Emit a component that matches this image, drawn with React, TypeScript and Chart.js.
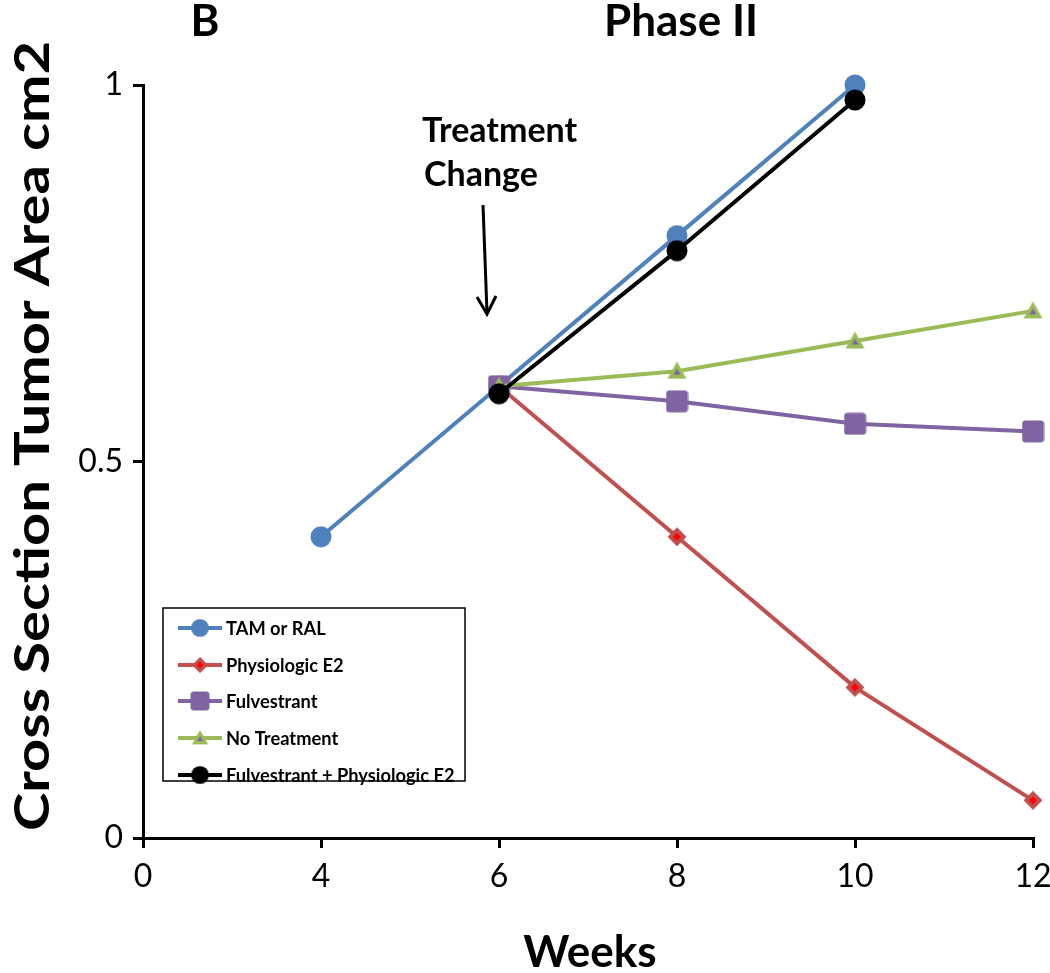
import React, { useEffect, useRef } from "react";
import { Chart, registerables } from "chart.js";

Chart.register(...registerables);

const categories = ["0", "4", "6", "8", "10", "12"];
const tamRal = [null, 0.4, 0.6, 0.8, 1.0, null];
const physE2 = [null, null, 0.6, 0.4, 0.2, 0.05];
const fulvestrant = [null, null, 0.6, 0.58, 0.55, 0.54];
const noTreatment = [null, null, 0.6, 0.62, 0.66, 0.7];
const fulvPlusE2 = [null, null, 0.59, 0.78, 0.98, null];
const seriesNames = ["TAM or RAL", "Physiologic E2", "Fulvestrant", "No Treatment", "Fulvestrant + Physiologic E2"];
const yTickLabels: Record<string, string> = { "0": "0", "0.5": "0.5", "1": "1" };

const BLUE = "#4F81BD";
const RED = "#C0504D";
const PURPLE = "#8064A2";
const GREEN = "#9BBB59";
const BLACK = "#000000";
const FONT = "Lato, 'Open Sans', sans-serif";

function mk(size: number, draw: (c: CanvasRenderingContext2D, s: number) => void) {
  const cv = document.createElement("canvas");
  cv.width = size;
  cv.height = size;
  const c = cv.getContext("2d")!;
  draw(c, size);
  return cv;
}

function circle(color: string) {
  return mk(22, (c, s) => {
    c.fillStyle = color;
    c.beginPath();
    c.arc(s / 2, s / 2, 10.5, 0, Math.PI * 2);
    c.fill();
  });
}

const diamond = mk(22, (c, s) => {
  const h = s / 2;
  c.fillStyle = RED;
  c.beginPath();
  c.moveTo(h, h - 9.5);
  c.lineTo(h + 9.5, h);
  c.lineTo(h, h + 9.5);
  c.lineTo(h - 9.5, h);
  c.closePath();
  c.fill();
  c.fillStyle = "#FF0000";
  c.beginPath();
  c.moveTo(h, h - 4);
  c.lineTo(h + 4, h);
  c.lineTo(h, h + 4);
  c.lineTo(h - 4, h);
  c.closePath();
  c.fill();
});

const square = mk(23, (c, s) => {
  c.fillStyle = PURPLE;
  const r = 3.5;
  const x0 = 0.5, y0 = 0.5, w = s - 1;
  c.beginPath();
  c.moveTo(x0 + r, y0);
  c.lineTo(x0 + w - r, y0);
  c.quadraticCurveTo(x0 + w, y0, x0 + w, y0 + r);
  c.lineTo(x0 + w, y0 + w - r);
  c.quadraticCurveTo(x0 + w, y0 + w, x0 + w - r, y0 + w);
  c.lineTo(x0 + r, y0 + w);
  c.quadraticCurveTo(x0, y0 + w, x0, y0 + w - r);
  c.lineTo(x0, y0 + r);
  c.quadraticCurveTo(x0, y0, x0 + r, y0);
  c.closePath();
  c.fill();
});

const triangle = mk(21, (c, s) => {
  const h = s / 2;
  c.fillStyle = GREEN;
  c.beginPath();
  c.moveTo(h, 1);
  c.lineTo(s - 1, s - 3);
  c.lineTo(1, s - 3);
  c.closePath();
  c.fill();
  c.fillStyle = PURPLE;
  c.beginPath();
  c.moveTo(h, h - 2.5);
  c.lineTo(h + 3.5, h + 3.5);
  c.lineTo(h - 3.5, h + 3.5);
  c.closePath();
  c.fill();
});

const blueCircle = circle(BLUE);
const blackCircle = circle(BLACK);

const markers = [blueCircle, diamond, square, triangle, blackCircle];
const colors = [BLUE, RED, PURPLE, GREEN, BLACK];

const textPlugin = {
  id: "textPlugin",
  afterDraw(chart: any) {
    const c: CanvasRenderingContext2D = chart.ctx;
    c.save();
    c.fillStyle = "#000";
    c.textAlign = "center";
    c.textBaseline = "middle";
    c.font = `bold 44px ${FONT}`;
    c.fillText("B", 205, 22);
    c.fillText("Phase II", 681, 22);
    c.fillText("Weeks", 590, 953);
    c.save();
    c.translate(34, 436);
    c.rotate(-Math.PI / 2);
    c.font = `bold 48px ${FONT}`;
    const label = "Cross Section Tumor Area cm2";
    const w = c.measureText(label).width;
    c.scale(790 / w, 1);
    c.fillText(label, 0, 0);
    c.restore();

    // annotation
    c.font = `bold 34px ${FONT}`;
    c.textAlign = "left";
    c.fillText("Treatment", 422, 131);
    c.fillText("Change", 424, 175);
    c.strokeStyle = "#000";
    c.lineWidth = 3;
    c.beginPath();
    c.moveTo(483, 205);
    c.lineTo(487, 313);
    c.stroke();
    c.beginPath();
    c.moveTo(477, 297);
    c.lineTo(487, 314);
    c.lineTo(496, 296);
    c.stroke();

    // legend
    c.lineWidth = 1.5;
    c.strokeStyle = "#000";
    c.fillStyle = "#fff";
    c.fillRect(163, 608, 302, 173);
    c.strokeRect(163, 608, 302, 173);
    const ys = [628, 665, 701, 738, 775];
    c.font = `bold 18.3px ${FONT}`;
    c.textAlign = "left";
    c.textBaseline = "middle";
    for (let i = 0; i < seriesNames.length; i++) {
      const y = ys[i];
      c.strokeStyle = colors[i];
      c.lineWidth = 4;
      c.beginPath();
      c.moveTo(178, y);
      c.lineTo(222, y);
      c.stroke();
      const m = markers[i];
      const sz = m.width * 0.85;
      c.drawImage(m, 200 - sz / 2, y - sz / 2, sz, sz);
      c.fillStyle = "#000";
      c.fillText(seriesNames[i], 226, y + 1);
    }
    c.restore();
  },
};

export default function App() {
  const ref = useRef<HTMLCanvasElement>(null);
  useEffect(() => {
    const ds = (label: string, data: any[], color: string, marker: any, order: number) => ({
      label,
      data,
      borderColor: color,
      backgroundColor: color,
      borderWidth: 4,
      pointStyle: marker,
      pointRadius: 10,
      spanGaps: false,
      clip: false as any,
      order,
    });
    const chart = new Chart(ref.current!, {
      type: "line",
      data: {
        labels: categories,
        datasets: [
          ds(seriesNames[0], tamRal, BLUE, blueCircle, 4),
          ds(seriesNames[1], physE2, RED, diamond, 3),
          ds(seriesNames[2], fulvestrant, PURPLE, square, 2),
          ds(seriesNames[3], noTreatment, GREEN, triangle, 1),
          ds(seriesNames[4], fulvPlusE2, BLACK, blackCircle, 0),
        ],
      },
      options: {
        responsive: false,
        animation: false,
        layout: { padding: { left: 0, right: 17, top: 85, bottom: 0 } },
        plugins: { legend: { display: false }, tooltip: { enabled: false }, title: { display: false } },
        scales: {
          x: {
            type: "category",
            offset: false,
            grid: { display: true, drawOnChartArea: false, drawTicks: true, tickLength: 10, color: "#000", lineWidth: 3 },
            border: { display: true, color: "#000", width: 3 },
            ticks: { color: "#000", font: { family: FONT, size: 32 }, padding: 9, maxRotation: 0, autoSkip: false },
            afterFit: (s: any) => { s.height = 135; s.paddingLeft = 0; s.paddingRight = 0; },
          },
          y: {
            min: 0,
            max: 1,
            grid: { display: true, drawOnChartArea: false, drawTicks: true, tickLength: 10, color: "#000", lineWidth: 3 },
            border: { display: true, color: "#000", width: 3 },
            ticks: {
              stepSize: 0.5,
              color: "#000",
              font: { family: FONT, size: 32 },
              padding: 10,
              callback: (v: any) => yTickLabels[String(v)] ?? "",
            },
            afterFit: (s: any) => { s.width = 143; s.paddingTop = 0; s.paddingBottom = 0; },
          },
        },
      },
      plugins: [textPlugin],
    });
    return () => chart.destroy();
  }, []);
  return (
    <div style={{ position: "absolute", left: 0, top: 0, width: 1050, height: 973, background: "#fff" }}>
      <canvas ref={ref} width={1050} height={973} />
    </div>
  );
}
